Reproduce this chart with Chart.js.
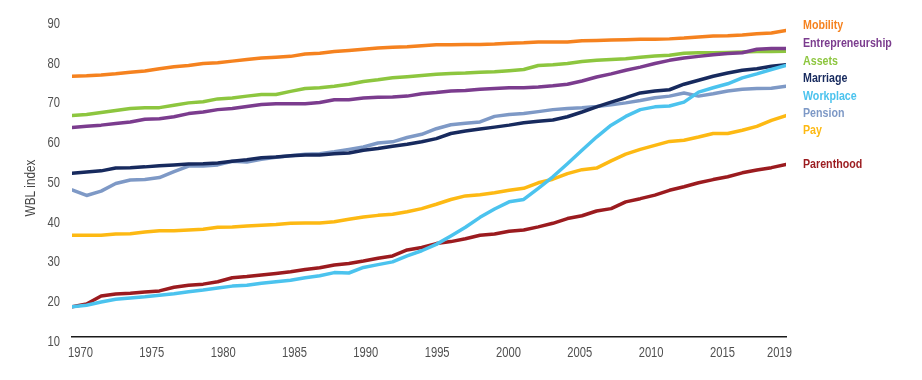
<!DOCTYPE html>
<html><head><meta charset="utf-8">
<script src="https://cdn.jsdelivr.net/npm/chart.js@4.4.1/dist/chart.umd.min.js"></script>
<style>html,body{margin:0;padding:0;background:#fff}#wrap{width:922px;height:380px;position:relative}</style>
</head><body><div id="wrap"><canvas id="c" width="922" height="380"></canvas></div>
<script>
const years = [1970,1971,1972,1973,1974,1975,1976,1977,1978,1979,
  1980,1981,1982,1983,1984,1985,1986,1987,1988,1989,
  1990,1991,1992,1993,1994,1995,1996,1997,1998,1999,
  2000,2001,2002,2003,2004,2005,2006,2007,2008,2009,
  2010,2011,2012,2013,2014,2015,2016,2017,2018,2019];
const xTickLabels = [1970,1975,1980,1985,1990,1995,2000,2005,2010,2015,2019];
const yTickLabels = [10,20,30,40,50,60,70,80,90];

const mobility = [75.6,75.7,75.9,76.2,76.6,76.9,77.5,78.0,78.3,78.8,
  79.0,79.4,79.8,80.2,80.4,80.6,81.2,81.4,81.8,82.1,
  82.4,82.7,82.9,83.0,83.3,83.5,83.5,83.6,83.6,83.7,
  83.9,84.0,84.2,84.2,84.2,84.5,84.6,84.7,84.8,84.9,
  84.9,85.0,85.2,85.5,85.7,85.8,86.0,86.3,86.5,87.1];
const entrepreneurship = [62.7,63.0,63.3,63.7,64.1,64.8,64.9,65.4,66.2,66.6,
  67.2,67.5,68.0,68.5,68.7,68.7,68.7,69.0,69.7,69.7,
  70.1,70.3,70.4,70.6,71.2,71.5,71.9,72.0,72.3,72.5,
  72.7,72.7,72.9,73.2,73.6,74.4,75.4,76.2,77.1,77.9,
  78.8,79.6,80.2,80.6,81.0,81.3,81.5,82.4,82.6,82.6];
const assets = [65.7,66.0,66.5,67.0,67.5,67.7,67.7,68.3,68.9,69.2,
  69.9,70.1,70.6,71.0,71.0,71.8,72.5,72.7,73.1,73.6,
  74.3,74.7,75.2,75.5,75.8,76.1,76.3,76.4,76.6,76.7,
  77.0,77.3,78.3,78.5,78.8,79.3,79.6,79.8,80.0,80.4,
  80.7,80.9,81.4,81.5,81.5,81.6,81.7,81.8,81.8,81.9];
const marriage = [51.2,51.5,51.8,52.5,52.6,52.8,53.1,53.3,53.5,53.6,
  53.8,54.2,54.6,55.1,55.3,55.6,55.8,55.8,56.1,56.3,
  57.0,57.4,58.0,58.5,59.1,59.9,61.2,61.8,62.3,62.8,
  63.3,63.9,64.3,64.6,65.4,66.6,67.9,69.1,70.2,71.4,
  71.9,72.2,73.6,74.6,75.6,76.4,77.1,77.5,78.1,78.5];
const workplace = [17.6,18.0,18.8,19.5,19.8,20.1,20.5,20.9,21.4,21.8,
  22.3,22.8,23.0,23.5,23.9,24.3,24.9,25.4,26.2,26.1,
  27.5,28.2,28.9,30.4,31.7,33.3,35.4,37.6,40.1,42.2,
  44.0,44.6,47.4,50.3,53.6,57.0,60.3,63.3,65.5,67.2,
  67.9,68.1,69.1,71.6,72.7,73.7,75.2,76.2,77.3,78.3];
const pension = [47.0,45.6,46.7,48.6,49.5,49.6,50.1,51.6,53.0,53.0,
  53.3,54.2,54.0,54.7,55.2,55.6,56.0,56.1,56.6,57.2,
  57.8,58.8,59.1,60.2,61.0,62.4,63.4,63.8,64.1,65.5,
  66.0,66.2,66.7,67.2,67.5,67.7,68.0,68.4,68.9,69.5,
  70.2,70.6,71.4,70.6,71.2,71.9,72.3,72.5,72.6,73.1];
const pay = [35.6,35.6,35.6,35.9,36.0,36.4,36.7,36.7,36.9,37.1,
  37.6,37.7,37.9,38.1,38.3,38.6,38.7,38.7,39.0,39.6,
  40.2,40.6,40.9,41.5,42.3,43.4,44.6,45.5,45.8,46.3,
  46.9,47.4,48.8,49.7,51.1,52.1,52.5,54.3,56.0,57.2,
  58.2,59.2,59.5,60.3,61.2,61.2,62.0,63.0,64.5,65.7];
const parenthood = [17.6,18.3,20.3,20.8,21.0,21.3,21.6,22.5,23.0,23.3,
  23.9,24.9,25.2,25.6,26.0,26.4,27.0,27.4,28.1,28.5,
  29.1,29.8,30.4,31.9,32.5,33.5,34.0,34.7,35.6,35.9,
  36.6,36.9,37.7,38.6,39.8,40.5,41.7,42.3,44.0,44.8,
  45.7,46.9,47.8,48.8,49.6,50.3,51.3,52.0,52.6,53.4];

const seriesNames = ['Mobility','Entrepreneurship','Assets','Marriage','Workplace','Pension','Pay','Parenthood'];
const seriesValues = [mobility, entrepreneurship, assets, marriage, workplace, pension, pay, parenthood];
const seriesColors = ['#F5821F','#7B3C8E','#8DC63F','#172A5E','#4BC3EE','#7E99C6','#FDB913','#9B1B1F'];
const legendBaselines = [28.5, 46.5, 64.5, 82, 99.5, 117, 134, 168];
// draw order: first in list is on top
const drawOrder = ['Workplace','Entrepreneurship','Marriage','Pension','Pay','Parenthood','Assets','Mobility'];

const FONT = '"Liberation Sans", Arial, sans-serif';
const NARROW = 0.81;

const datasets = drawOrder.map(name => {
  const i = seriesNames.indexOf(name);
  return {
    label: name,
    data: seriesValues[i].map((v, k) => ({x: years[k], y: v})),
    borderColor: seriesColors[i],
    backgroundColor: seriesColors[i],
    borderWidth: 3.5,
    pointRadius: 0,
    tension: 0,
    borderCapStyle: 'round',
    borderJoinStyle: 'round',
    fill: false,
    xAxisID: 'x',
    yAxisID: 'y'
  };
});

function narrowText(ctx, text, x, y, sx) {
  ctx.save();
  ctx.translate(x, y);
  ctx.scale(sx, 1);
  ctx.fillText(text, 0, 0);
  ctx.restore();
}

const textPlugin = {
  id: 'textPlugin',
  afterDraw(chart) {
    const ctx = chart.ctx;
    const xs = chart.scales.xLabels, ys = chart.scales.y;
    // tick labels
    ctx.save();
    ctx.font = '14px ' + FONT;
    ctx.fillStyle = '#505050';
    ctx.textBaseline = 'middle';
    ctx.textAlign = 'center';
    xTickLabels.forEach(v => narrowText(ctx, String(v), xs.getPixelForValue(v), 353, 0.8));
    ctx.textAlign = 'right';
    yTickLabels.forEach(v => narrowText(ctx, String(v), 60, ys.getPixelForValue(v) + 5, 0.8));
    ctx.restore();
    // legend
    ctx.save();
    ctx.font = 'bold 13px ' + FONT;
    ctx.textAlign = 'left';
    ctx.textBaseline = 'alphabetic';
    seriesNames.forEach((n, i) => {
      ctx.fillStyle = seriesColors[i];
      narrowText(ctx, n, 803, legendBaselines[i], 0.82);
    });
    ctx.restore();
    // axis title
    ctx.save();
    ctx.font = '14px ' + FONT;
    ctx.fillStyle = '#454545';
    ctx.textAlign = 'center';
    ctx.textBaseline = 'middle';
    ctx.translate(31, 188);
    ctx.rotate(-Math.PI / 2);
    ctx.scale(0.84, 1);
    ctx.fillText('WBL index', 0, 0);
    ctx.restore();
  }
};

new Chart(document.getElementById('c'), {
  type: 'line',
  data: { datasets },
  options: {
    responsive: false,
    animation: false,
    devicePixelRatio: 1,
    layout: { padding: { top: 19, right: 136, bottom: 0, left: 0 } },
    plugins: { legend: { display: false }, tooltip: { enabled: false } },
    scales: {
      x: { type: 'linear', min: 1970, max: 2019, display: false },
      xLabels: {
        type: 'linear', position: 'bottom', min: 1969.404, max: 2019.456,
        grid: { display: false },
        border: { display: true, color: '#1a1a1a', width: 1.5 },
        ticks: { display: false },
        afterBuildTicks: s => { s.ticks = xTickLabels.map(v => ({ value: v })); },
        afterFit: s => { s.height = 43; }
      },
      y: {
        type: 'linear', min: 10, max: 90,
        grid: { display: false },
        border: { display: false },
        ticks: { display: false },
        afterBuildTicks: s => { s.ticks = yTickLabels.map(v => ({ value: v })); },
        afterFit: s => { s.width = 72; }
      }
    }
  },
  plugins: [textPlugin]
});
</script></body></html>
